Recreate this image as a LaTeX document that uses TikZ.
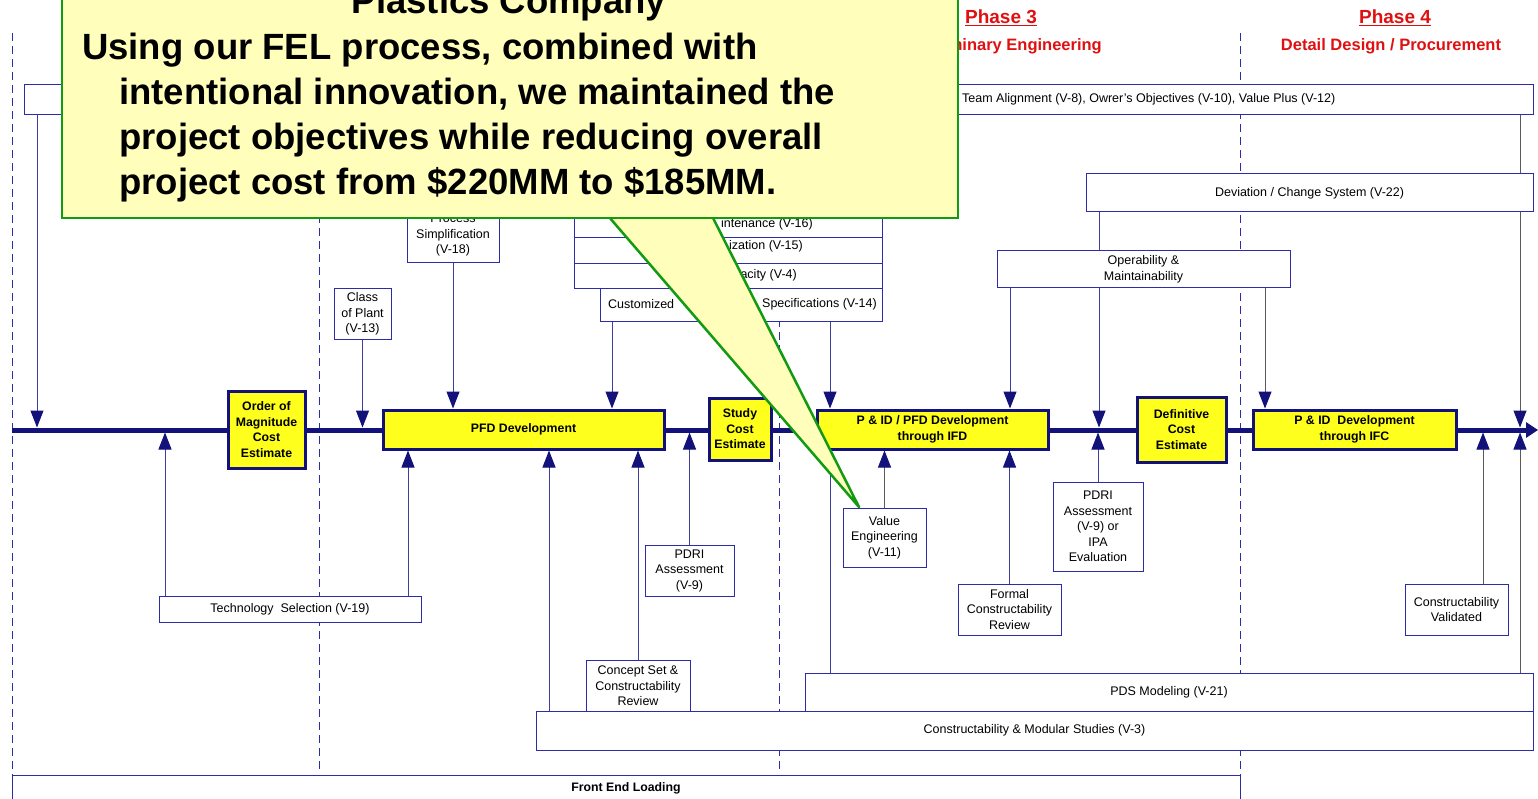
\documentclass[tikz,border=0pt]{standalone}
\usepackage{fontspec}
\setmainfont{Liberation Sans}
\usetikzlibrary{arrows.meta, positioning}

\definecolor{navy}{HTML}{12127A}
\definecolor{wire}{HTML}{3E3E9C}
\definecolor{rule}{HTML}{2C2CA8}
\definecolor{greyline}{HTML}{5A5A5A}
\definecolor{phasered}{HTML}{E01010}
\definecolor{stageyellow}{HTML}{FFFF1E}
\definecolor{notefill}{HTML}{FFFFBB}
\definecolor{notegreen}{HTML}{139A13}

\newcommand{\felsmall}{\fontsize{12.5}{15.5}\selectfont}
\newcommand{\felbold}{\bfseries\fontsize{12.3}{15.5}\selectfont}
\newcommand{\felphase}{\bfseries\fontsize{19}{22}\selectfont}
\newcommand{\felsub}{\bfseries\fontsize{16.5}{20}\selectfont}
\newcommand{\felcallout}{\bfseries\fontsize{36.5}{45}\selectfont}

\pgfdeclarelayer{bg}
\pgfsetlayers{bg,main}

\begin{document}
\begin{tikzpicture}[
    x=1pt, y=-1pt,
    stage/.style={rectangle, draw=navy, line width=3pt, fill=stageyellow, inner sep=0pt, align=center, font=\felbold},
    infobox/.style={rectangle, draw=rule, line width=1pt, fill=white, inner sep=0pt, align=center, font=\felsmall},
    boxtext/.style={inner sep=0pt, font=\felsmall},
    feed/.style={draw=wire, line width=1pt, -{Triangle[length=17pt, width=13pt, color=navy]}},
    greyfeed/.style={feed, draw=greyline},
    divider/.style={draw=rule, line width=1pt, dash pattern=on 8pt off 5pt},
    phasehead/.style={text=phasered, inner sep=0pt}
]
\useasboundingbox (0,0) rectangle (1538,799);

% phase headings
\node [phasehead, font=\felphase] (ph3) at (1001,18) {\underline{Phase 3}};
\node [phasehead, font=\felphase] (ph4) at (1395,18) {\underline{Phase 4}};
\node [phasehead, font=\felsub, anchor=east] (ph3sub) at (1102,46) {Preliminary Engineering};
\node [phasehead, font=\felsub] (ph4sub) at (1391,46) {Detail Design / Procurement};

% inputs from above
\node [infobox, minimum width=1509pt, minimum height=30pt] (team) at (778.5,100) {};
\node [boxtext, anchor=west] (teamtext) at (962,99) {Team Alignment (V-8), Owrer's Objectives (V-10), Value Plus (V-12)};
\node [infobox, minimum width=447pt, minimum height=38pt] (change) at (1309.5,193) {Deviation / Change System (V-22)};
\node [infobox, minimum width=293pt, minimum height=37pt] (operate) at (1143.5,269.5) {Operability \&\\Maintainability};
\node [infobox, minimum width=308pt, minimum height=40pt] (maint) at (728,218) {};
\node [boxtext, anchor=east] (mainttext) at (813,224) {intenance (V-16)};
\node [infobox, minimum width=308pt, minimum height=26pt] (optim) at (728,251) {};
\node [boxtext, anchor=east] (optimtext) at (803,246) {ization (V-15)};
\node [infobox, minimum width=308pt, minimum height=25pt] (capac) at (728,276.5) {};
\node [boxtext, anchor=east] (capactext) at (797,275) {acity (V-4)};
\node [infobox, minimum width=282pt, minimum height=33pt] (specs) at (741,305.5) {};
\node [boxtext, anchor=west] (specsleft) at (608,304) {Customized};
\node [boxtext, anchor=east] (specsright) at (877,304) {Specifications (V-14)};
\node [infobox, minimum width=92pt, minimum height=56pt] (simplify) at (453,235) {Process\\Simplification\\(V-18)};
\node [infobox, minimum width=57pt, minimum height=50pt] (plantclass) at (362.5,314) {Class\\of Plant\\(V-13)};

% stages on the spine
\node [stage, minimum width=77pt, minimum height=77pt] (oom) at (266.5,429.5) {Order of\\Magnitude\\Cost\\Estimate};
\node [stage, minimum width=281pt, minimum height=39pt] (pfd) at (523.5,429.5) {PFD Development};
\node [stage, minimum width=62pt, minimum height=62pt] (study) at (740,429) {Study\\Cost\\Estimate};
\node [stage, minimum width=231pt, minimum height=39pt] (ifd) at (932.5,429.5) {P \& ID / PFD Development\\through IFD};
\node [stage, minimum width=89pt, minimum height=65pt] (definitive) at (1181.5,429.5) {Definitive\\Cost\\Estimate};
\node [stage, minimum width=203pt, minimum height=39pt] (ifc) at (1354.5,429.5) {P \& ID~ Development\\through IFC};

% inputs from below
\node [infobox, minimum width=262pt, minimum height=26pt] (techsel) at (290,609) {Technology~ Selection (V-19)};
\node [infobox, minimum width=89pt, minimum height=51pt] (pdria) at (689.5,570.5) {PDRI\\Assessment\\(V-9)};
\node [infobox, minimum width=104pt, minimum height=52pt] (concept) at (638,686) {Concept Set \&\\Constructability\\Review};
\node [infobox, minimum width=83pt, minimum height=59pt] (valeng) at (884.5,537.5) {Value\\Engineering\\(V-11)};
\node [infobox, minimum width=103pt, minimum height=51pt] (formal) at (1009.5,609.5) {Formal\\Constructability\\Review};
\node [infobox, minimum width=90pt, minimum height=89pt] (pdrib) at (1098,526.5) {PDRI\\Assessment\\(V-9) or\\IPA\\Evaluation};
\node [infobox, minimum width=103pt, minimum height=51pt] (validated) at (1456.5,609.5) {Constructability\\Validated};
\node [infobox, minimum width=728pt, minimum height=38pt] (pds) at (1169,692) {PDS Modeling (V-21)};
\node [infobox, minimum width=997pt, minimum height=39pt] (modular) at (1034.5,730.5) {Constructability \& Modular Studies (V-3)};
\node [infobox, minimum width=1228pt, minimum height=26pt, font=\felbold] (fel) at (626,788) {Front End Loading};

\coordinate (spinew) at (12,430);
\coordinate (spinee) at (1538,430);

\begin{pgfonlayer}{bg}
% phase dividers
\draw [divider] (12,33) -- (12,775);
\draw [divider] (319,33) -- (319,773);
\draw [divider] (779,33) -- (779,773);
\draw [divider] (1240,33) -- (1240,775);
% spine
\draw [navy, line width=5pt, -{Triangle[length=12pt, width=15pt]}] (spinew) -- (spinee);
% from above
\draw [feed, shorten >=2.5pt] (37,0 |- team.south) -- (37,0 |- spinew);
\draw [greyfeed, shorten >=2.5pt] (1520,0 |- team.south) -- (1520,0 |- spinew);
\draw [feed, shorten >=2.5pt] (1099,0 |- change.south) -- (1099,0 |- spinew);
\draw [feed] (1010,0 |- operate.south) -- (1010,0 |- ifd.north);
\draw [greyfeed] (1265,0 |- operate.south) -- (1265,0 |- ifc.north);
\draw [feed] (612,0 |- specs.south) -- (612,0 |- pfd.north);
\draw [feed] (830,0 |- specs.south) -- (830,0 |- ifd.north);
\draw [feed] (simplify.south) -- (simplify.south |- pfd.north);
\draw [feed, shorten >=2.5pt] (plantclass.south) -- (plantclass.south |- spinew);
% from below
\draw [feed, shorten >=2.5pt] (165,0 |- techsel.north) -- (165,0 |- spinew);
\draw [feed] (408,0 |- techsel.north) -- (408,0 |- pfd.south);
\draw [feed] (549,0 |- modular.north) -- (549,0 |- pfd.south);
\draw [feed] (concept.north) -- (concept.north |- pfd.south);
\draw [feed, shorten >=2.5pt] (pdria.north) -- (pdria.north |- spinew);
\draw [draw=wire, line width=1pt] (830,0 |- pds.north) -- (830,0 |- ifd.south);
\draw [greyfeed] (valeng.north) -- (valeng.north |- ifd.south);
\draw [feed] (formal.north) -- (formal.north |- ifd.south);
\draw [feed, shorten >=2.5pt] (pdrib.north) -- (pdrib.north |- spinew);
\draw [greyfeed, shorten >=2.5pt] (1483,0 |- validated.north) -- (1483,0 |- spinew);
\draw [greyfeed, shorten >=2.5pt] (1520,0 |- pds.north) -- (1520,0 |- spinew);
\end{pgfonlayer}

% callout
\filldraw [fill=notefill, draw=notegreen, line width=2.5pt, line join=round] (603,210) -- (859,507) -- (709,210) -- cycle;
\node [draw=notegreen, fill=notefill, line width=2.5pt, minimum width=896pt, minimum height=240pt, inner sep=0pt] (callout) at (510,98) {};
\node [font=\felcallout, anchor=base, inner sep=0pt] (calltitle) at (509,14) {Plastics Company};
\node [font=\felcallout, anchor=base west, align=left, inner sep=0pt] (callbody) at (82,195) {Using our FEL process, combined with\\\hspace*{37pt}intentional innovation, we maintained the\\\hspace*{37pt}project objectives while reducing overall\\\hspace*{37pt}project cost from \$220MM to \$185MM.};
\end{tikzpicture}
\end{document}
